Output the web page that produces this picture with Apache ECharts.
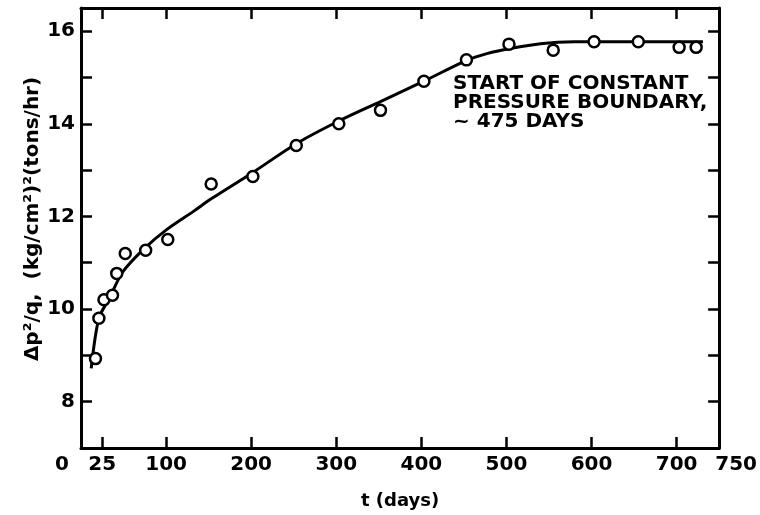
<!DOCTYPE html>
<html>
<head>
<meta charset="utf-8">
<script src="https://cdn.jsdelivr.net/npm/echarts@6/dist/echarts.min.js"></script>
<style>
  html, body { margin: 0; padding: 0; background: #fff; }
  #chart { width: 760px; height: 515px; }
</style>
</head>
<body>
<div id="chart"></div>
<script>
// measured points [t days, dp^2/q]
const points = [
  [17, 8.93], [21, 9.8], [27, 10.2], [37, 10.3], [42, 10.77], [52, 11.2],
  [76, 11.27], [102, 11.5], [153, 12.7], [202, 12.86], [253, 13.53],
  [303, 14.0], [352, 14.29], [403, 14.92], [453, 15.38], [503, 15.72],
  [555, 15.59], [603, 15.77], [655, 15.77], [703, 15.65], [723, 15.65]
];
// hand-drawn fitted curve
const curve = [
  [12, 8.72], [21, 9.8], [33, 10.22], [49, 10.8], [74, 11.3], [101, 11.72],
  [133, 12.12], [153, 12.38], [202, 12.95], [253, 13.57], [303, 14.06],
  [352, 14.48], [403, 14.92], [452, 15.36], [478, 15.52], [503, 15.62],
  [540, 15.73], [580, 15.77], [731, 15.77]
];
const xTicks = [25, 100, 200, 300, 400, 500, 600, 700];
const xLabels = [0, 25, 100, 200, 300, 400, 500, 600, 700, 750];
const yTicks = [8, 9, 10, 11, 12, 13, 14, 15, 16];
const yLabels = [8, 10, 12, 14, 16];
const note = 'START OF CONSTANT\nPRESSURE BOUNDARY,\n~ 475 DAYS';

const chart = echarts.init(document.getElementById('chart'));

const font = 'DejaVu Sans';
const line = { show: true, onZero: false, lineStyle: { color: '#000', width: 3 } };
const tick = (vals) => ({
  show: true, inside: true, length: 11, customValues: vals,
  lineStyle: { color: '#000', width: 2.5 }
});

chart.setOption({
  backgroundColor: '#fff',
  animation: false,
  title: {
    text: note,
    left: 448,
    top: 69,
    textStyle: { fontFamily: font, fontSize: 20, fontWeight: 'bold', color: '#000', lineHeight: 19 }
  },
  grid: { left: 81, right: 40, top: 8, bottom: 67 },
  xAxis: [{
    type: 'value',
    min: 0,
    max: 750,
    name: 't (days)',
    nameLocation: 'middle',
    nameGap: 44,
    nameTextStyle: { fontFamily: font, fontSize: 18, fontWeight: 'bold', color: '#000' },
    axisLine: line,
    axisTick: tick(xTicks),
    splitLine: { show: false },
    axisLabel: {
      customValues: xLabels,
      margin: 7,
      fontFamily: font, fontSize: 20, fontWeight: 'bold', color: '#000',
      formatter: v => v === 0 ? '{l|0}' : v === 750 ? '{r|750}' : String(v),
      rich: {
        l: { fontFamily: font, fontSize: 20, fontWeight: 'bold', color: '#000', padding: [0, 38, 0, 0] },
        r: { fontFamily: font, fontSize: 20, fontWeight: 'bold', color: '#000', padding: [0, 0, 0, 34] }
      }
    }
  }, {
    type: 'value',
    position: 'top',
    min: 0,
    max: 750,
    axisLine: line,
    axisTick: tick(xTicks),
    axisLabel: { show: false },
    splitLine: { show: false }
  }],
  yAxis: [{
    type: 'value',
    min: 7,
    max: 16.5,
    name: 'Δp²/q,  (kg/cm²)²(tons/hr)',
    nameLocation: 'middle',
    nameRotate: 90,
    nameGap: 38,
    nameMoveOverlap: false,
    nameTextStyle: { fontFamily: font, fontSize: 20, fontWeight: 'bold', color: '#000', padding: [0, 0, 0, 18] },
    axisLine: line,
    axisTick: tick(yTicks),
    splitLine: { show: false },
    axisLabel: {
      customValues: yLabels,
      margin: 6,
      fontFamily: font, fontSize: 20, fontWeight: 'bold', color: '#000'
    }
  }, {
    type: 'value',
    position: 'right',
    min: 7,
    max: 16.5,
    axisLine: line,
    axisTick: tick(yTicks),
    axisLabel: { show: false },
    splitLine: { show: false }
  }],
  series: [{
    type: 'line',
    data: curve,
    smooth: 0.3,
    showSymbol: false,
    lineStyle: { color: '#000', width: 3 },
    z: 2
  }, {
    type: 'scatter',
    data: points,
    symbol: 'circle',
    symbolSize: 11,
    itemStyle: { color: '#fff', borderColor: '#000', borderWidth: 2.5, opacity: 1 },
    z: 3
  }]
});
</script>
</body>
</html>
